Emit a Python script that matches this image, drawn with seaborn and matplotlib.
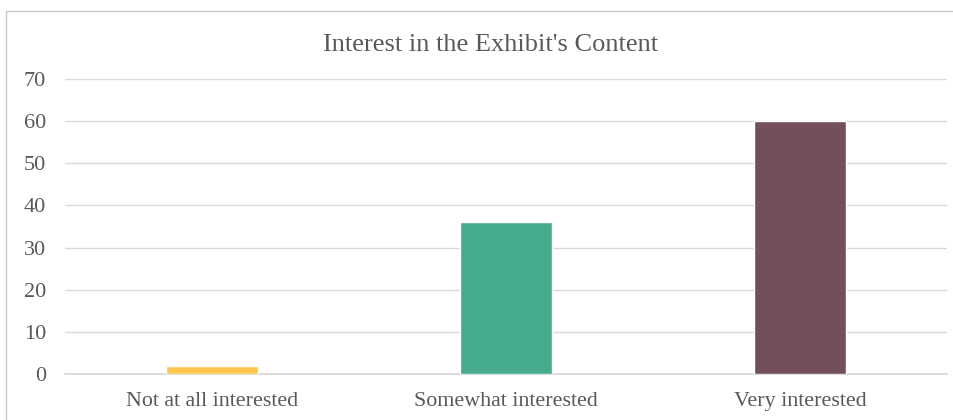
import matplotlib
matplotlib.use("Agg")
import matplotlib.pyplot as plt
import seaborn as sns
import pandas as pd
from matplotlib.patches import Rectangle

categories = ["Not at all interested", "Somewhat interested", "Very interested"]
values = [2, 36, 60]
colors = ["#FCC64F", "#45AB8C", "#734F5A"]
yticks = [0, 10, 20, 30, 40, 50, 60, 70]
title = "Interest in the Exhibit's Content"

sns.set_theme(style="white")
plt.rcParams['font.family'] = ['Liberation Serif', 'DejaVu Serif']

df = pd.DataFrame({"cat": categories, "val": values})

fig = plt.figure(figsize=(9.54, 4.2), dpi=100)
ax = fig.add_axes([65/954, 1-374/420, (947-65)/954, (374-79)/420])

sns.barplot(data=df, x="cat", y="val", hue="cat", palette=colors, ax=ax,
            width=0.313, legend=False, saturation=1, zorder=3)

ax.set_ylim(0, 70)
ax.set_yticks(yticks)
ax.set_xlim(-0.5, 2.5)
ax.grid(axis="y", color="#D9D9D9", linewidth=1, zorder=0)
for s in ["top", "right", "left"]:
    ax.spines[s].set_visible(False)
ax.spines["bottom"].set_color("#D9D9D9")
ax.set_xlabel("")
ax.set_ylabel("")
ax.tick_params(axis="y", length=0, pad=13.5, labelsize=16, labelcolor="#595959")
ax.tick_params(axis="x", length=0, pad=13, labelsize=15.8, labelcolor="#595959")
fig.text(490.5/954, 1 - 51/420, title, fontsize=19, color="#595959",
         ha="center", va="baseline")

fig.patches.append(Rectangle((6/954, -0.1), 1.2, 1 - 11/420 + 0.1,
                             transform=fig.transFigure, fill=False,
                             edgecolor="#C8C8C8", linewidth=1))

fig.savefig("out.png", dpi=100)
